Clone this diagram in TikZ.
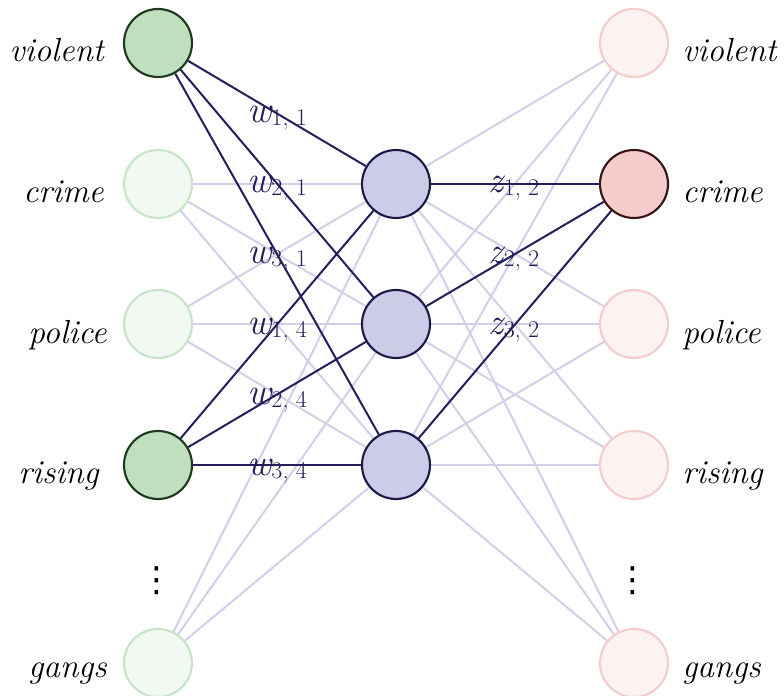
\documentclass[tikz,border=0pt]{standalone}
\usepackage{fontspec}
\newfontfamily\dvfont{DejaVu Sans}
\usetikzlibrary{calc}
\definecolor{gdark}{HTML}{BFDFBF}
\definecolor{gdarkb}{HTML}{1E3A1E}
\definecolor{glight}{HTML}{F2F8F2}
\definecolor{glightb}{HTML}{C6E5C6}
\definecolor{mfill}{HTML}{CCCCE8}
\definecolor{mb}{HTML}{1C1A48}
\definecolor{pdark}{HTML}{F4CCCC}
\definecolor{pdarkb}{HTML}{3A1414}
\definecolor{plight}{HTML}{FCF2F2}
\definecolor{plightb}{HTML}{F4CCCC}
\definecolor{edark}{HTML}{221F5C}
\definecolor{elight}{HTML}{D2D0E8}
\newcommand{\wlbl}[2]{{\fontsize{28}{32}\selectfont\itshape #1}\raisebox{-2.5pt}{\fontsize{18}{20}\selectfont #2}}
\tikzset{
  neu/.style={circle, minimum size=51pt, inner sep=0pt, line width=1.6pt},
  inA/.style={neu, fill=gdark, draw=gdarkb},
  inB/.style={neu, fill=glight, draw=glightb},
  hid/.style={neu, fill=mfill, draw=mb},
  outA/.style={neu, fill=pdark, draw=pdarkb},
  outB/.style={neu, fill=plight, draw=plightb},
  lightedge/.style={draw=elight, line width=1.5pt},
  darkedge/.style={draw=edark, line width=1.5pt},
  wlab/.style={text=edark, inner sep=0pt},
  lab/.style={font=\fontsize{25}{30}\selectfont\itshape, inner sep=0pt},
  dots/.style={font=\fontsize{26}{30}\selectfont\dvfont, inner sep=0pt}
}
\begin{document}
\begin{tikzpicture}[x=0.75pt, y=-0.75pt]
\useasboundingbox (0,0) rectangle (784,695);
\pgfdeclarelayer{bg}\pgfdeclarelayer{mid}
\pgfsetlayers{bg,mid,main}
\node[inA] (l1) at (158,43) {};
\node[inB] (l2) at (158,184) {};
\node[inB] (l3) at (158,324) {};
\node[inA] (l4) at (158,465) {};
\node[inB] (l5) at (158,663) {};
\node[hid] (h1) at (396,184) {};
\node[hid] (h2) at (396,324) {};
\node[hid] (h3) at (396,465) {};
\node[outB] (r1) at (634,43) {};
\node[outA] (r2) at (634,184) {};
\node[outB] (r3) at (634,324) {};
\node[outB] (r4) at (634,465) {};
\node[outB] (r5) at (634,663) {};
\begin{pgfonlayer}{bg}
\foreach \a in {l2,l3,l5}{\foreach \b in {h1,h2,h3}{\draw[lightedge] (\a) -- (\b);}}
\foreach \a in {h1,h2,h3}{\foreach \b in {r1,r3,r4,r5}{\draw[lightedge] (\a) -- (\b);}}
\end{pgfonlayer}
\begin{pgfonlayer}{mid}
\foreach \a in {l1,l4}{\foreach \b in {h1,h2,h3}{\draw[darkedge] (\a) -- (\b);}}
\foreach \a in {h1,h2,h3}{\draw[darkedge] (\a) -- (r2);}
\node[wlab] (w11) at (277,118) {\wlbl{w}{1, 1}};
\node[wlab] (w21) at (277,188) {\wlbl{w}{2, 1}};
\node[wlab] (w31) at (277,259) {\wlbl{w}{3, 1}};
\node[wlab] (w14) at (277,330) {\wlbl{w}{1, 4}};
\node[wlab] (w24) at (277,400) {\wlbl{w}{2, 4}};
\node[wlab] (w34) at (277,471) {\wlbl{w}{3, 4}};
\node[wlab] (z12) at (514,188) {\wlbl{z}{1, 2}};
\node[wlab] (z22) at (514,259) {\wlbl{z}{2, 2}};
\node[wlab] (z32) at (514,330) {\wlbl{z}{3, 2}};
\end{pgfonlayer}
\node[lab, anchor=base east] (tl1) at (104,62) {violent};
\node[lab, anchor=base east] (tl2) at (104,203) {crime};
\node[lab, anchor=base east] (tl3) at (107,343) {police};
\node[lab, anchor=base east] (tl4) at (99,483) {rising};
\node[lab, anchor=base east] (tl5) at (107,677) {gangs};
\node[lab, anchor=base west] (tr1) at (682,62) {violent};
\node[lab, anchor=base west] (tr2) at (682,203) {crime};
\node[lab, anchor=base west] (tr3) at (682,343) {police};
\node[lab, anchor=base west] (tr4) at (682,483) {rising};
\node[lab, anchor=base west] (tr5) at (682,677) {gangs};
\node[dots] (dl) at (157,581) {⋮};
\node[dots] (dr) at (633,581) {⋮};
\end{tikzpicture}
\end{document}
